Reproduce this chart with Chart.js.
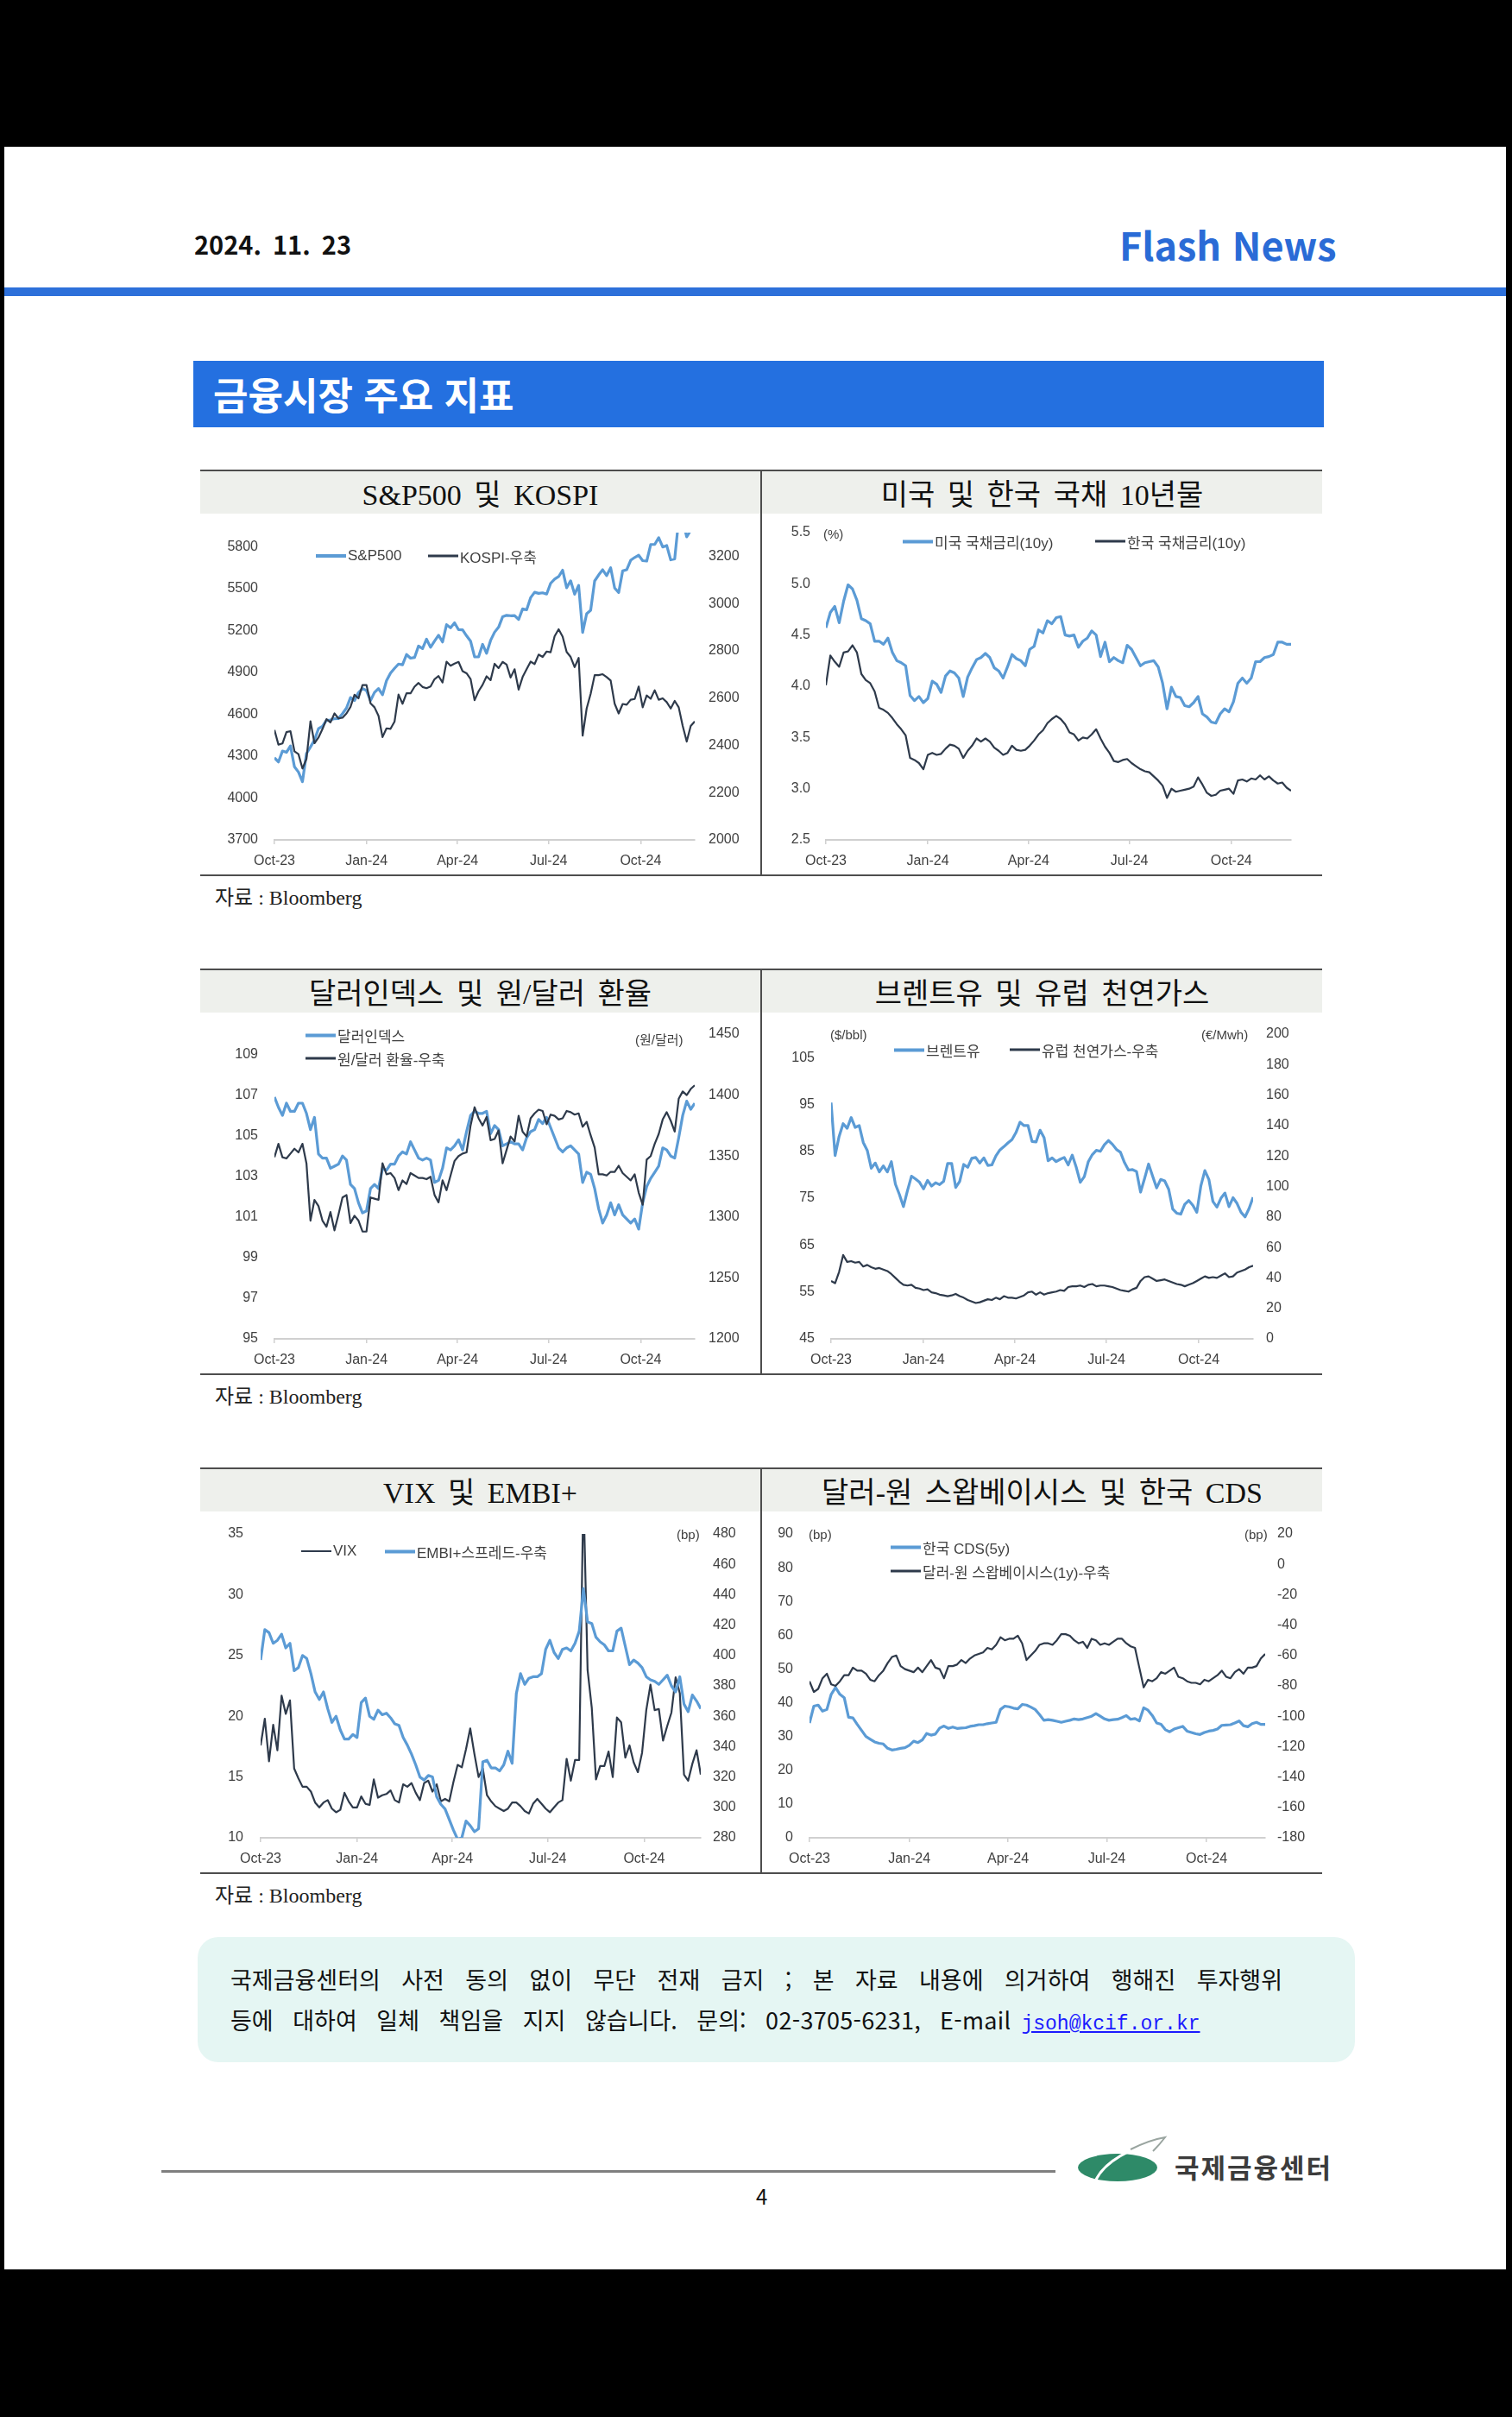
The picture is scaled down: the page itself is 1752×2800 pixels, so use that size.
<!DOCTYPE html>
<html lang="ko">
<head>
<meta charset="utf-8">
<title>금융시장 주요 지표</title>
<script src="https://cdn.jsdelivr.net/npm/chart.js@4.4.1/dist/chart.umd.min.js"></script>
<style>
  body { margin: 0; width: 1752px; height: 2800px; background: #000; position: relative; overflow: hidden;
         font-family: 'Noto Sans CJK KR', 'Noto Sans', sans-serif; color: #222; }
  .a { position: absolute; }
  .c { position: absolute; transform: translateY(-50%); white-space: nowrap; line-height: 1.2; }
  .rule { position: absolute; background: #4d4d4d; }
  .band { position: absolute; background: #eef0ec; height: 49px; width: 649px; }
  .ttl { position: absolute; width: 649px; text-align: center; transform: translateY(-50%); line-height: 1.2;
         font: 34px 'Liberation Serif', 'Noto Sans CJK KR', serif; color: #111; word-spacing: 6px; white-space: nowrap; }
  .src { font: 24px 'Liberation Serif', 'Noto Sans CJK KR', serif; color: #222; }
  .lg { display: flex; align-items: center; font: 17px 'Liberation Sans', 'Noto Sans CJK KR', sans-serif; color: #404040; }
  .sw { display: inline-block; width: 35px; margin-right: 2px; }
  .sw.b { height: 4px; background: #5b9bd5; }
  .sw.d { height: 2.5px; background: #2e3a4b; }
  .unit { font: 15px 'Liberation Sans', 'Noto Sans CJK KR', sans-serif; color: #404040; }
  canvas { position: absolute; }
</style>
</head>
<body>
<div class="a" style="left:5px;top:170px;width:1740px;height:2459px;background:#fff"></div>

<!-- header -->
<div class="c" style="left:225px;top:282px;font-size:29px;font-weight:700;color:#111;word-spacing:5px">2024. 11. 23</div>
<div class="c" style="left:1297px;top:283px;font-size:45px;font-weight:700;color:#2a6bd6">Flash News</div>
<div class="a" style="left:5px;top:333px;width:1740px;height:10px;background:#2d70da"></div>
<div class="a" style="left:224px;top:418px;width:1310px;height:77px;background:#2470e0"></div>
<div class="c" style="left:247px;top:456px;font-size:44px;font-weight:700;color:#fff">금융시장 주요 지표</div>

<!-- row 1 -->
<div class="rule" style="left:232px;top:544px;width:1300px;height:2px"></div>
<div class="rule" style="left:232px;top:1013px;width:1300px;height:2px"></div>
<div class="rule" style="left:881px;top:545px;width:2px;height:469px"></div>
<div class="band" style="left:232px;top:546px"></div>
<div class="band" style="left:883px;top:546px"></div>
<div class="ttl" style="left:232px;top:570px">S&amp;P500 및 KOSPI</div>
<div class="ttl" style="left:883px;top:570px">미국 및 한국 국채 10년물</div>
<canvas id="c1" width="648" height="414" style="left:232px;top:598px"></canvas>
<canvas id="c2" width="648" height="414" style="left:884px;top:598px"></canvas>
<div class="c lg" style="left:366px;top:644px"><i class="sw b"></i>S&amp;P500</div>
<div class="c lg" style="left:496px;top:644px"><i class="sw d"></i>KOSPI-우축</div>
<div class="c unit" style="left:954px;top:618px">(%)</div>
<div class="c lg" style="left:1046px;top:627px"><i class="sw b"></i>미국 국채금리(10y)</div>
<div class="c lg" style="left:1269px;top:627px"><i class="sw d"></i>한국 국채금리(10y)</div>
<div class="c src" style="left:249px;top:1037px">자료 : Bloomberg</div>

<!-- row 2 -->
<div class="rule" style="left:232px;top:1122px;width:1300px;height:2px"></div>
<div class="rule" style="left:232px;top:1591px;width:1300px;height:2px"></div>
<div class="rule" style="left:881px;top:1123px;width:2px;height:469px"></div>
<div class="band" style="left:232px;top:1124px"></div>
<div class="band" style="left:883px;top:1124px"></div>
<div class="ttl" style="left:232px;top:1148px">달러인덱스 및 원/달러 환율</div>
<div class="ttl" style="left:883px;top:1148px">브렌트유 및 유럽 천연가스</div>
<canvas id="c3" width="648" height="414" style="left:232px;top:1176px"></canvas>
<canvas id="c4" width="648" height="414" style="left:884px;top:1176px"></canvas>
<div class="c lg" style="left:354px;top:1199px"><i class="sw b"></i>달러인덱스</div>
<div class="c lg" style="left:354px;top:1226px"><i class="sw d"></i>원/달러 환율-우축</div>
<div class="c unit" style="left:736px;top:1203px">(원/달러)</div>
<div class="c unit" style="left:962px;top:1198px">($/bbl)</div>
<div class="c unit" style="left:1392px;top:1198px">(€/Mwh)</div>
<div class="c lg" style="left:1036px;top:1216px"><i class="sw b"></i>브렌트유</div>
<div class="c lg" style="left:1170px;top:1216px"><i class="sw d"></i>유럽 천연가스-우축</div>
<div class="c src" style="left:249px;top:1615px">자료 : Bloomberg</div>

<!-- row 3 -->
<div class="rule" style="left:232px;top:1700px;width:1300px;height:2px"></div>
<div class="rule" style="left:232px;top:2169px;width:1300px;height:2px"></div>
<div class="rule" style="left:881px;top:1701px;width:2px;height:469px"></div>
<div class="band" style="left:232px;top:1702px"></div>
<div class="band" style="left:883px;top:1702px"></div>
<div class="ttl" style="left:232px;top:1726px">VIX 및 EMBI+</div>
<div class="ttl" style="left:883px;top:1726px">달러-원 스왑베이시스 및 한국 CDS</div>
<canvas id="c5" width="648" height="414" style="left:232px;top:1754px"></canvas>
<canvas id="c6" width="648" height="414" style="left:884px;top:1754px"></canvas>
<div class="c lg" style="left:349px;top:1797px"><i class="sw d"></i>VIX</div>
<div class="c lg" style="left:446px;top:1797px"><i class="sw b"></i>EMBI+스프레드-우축</div>
<div class="c unit" style="left:784px;top:1777px">(bp)</div>
<div class="c unit" style="left:937px;top:1777px">(bp)</div>
<div class="c unit" style="left:1442px;top:1777px">(bp)</div>
<div class="c lg" style="left:1032px;top:1792px"><i class="sw b"></i>한국 CDS(5y)</div>
<div class="c lg" style="left:1032px;top:1820px"><i class="sw d"></i>달러-원 스왑베이시스(1y)-우축</div>
<div class="c src" style="left:249px;top:2193px">자료 : Bloomberg</div>

<!-- footer -->
<div class="a" style="left:229px;top:2244px;width:1341px;height:145px;background:#e5f6f3;border-radius:24px"></div>
<div class="c" style="left:267px;top:2293px;width:1219px;font-size:27px;color:#111;text-align:justify;text-align-last:justify">국제금융센터의 사전 동의 없이 무단 전재 금지 ; 본 자료 내용에 의거하여 행해진 투자행위</div>
<div class="c" style="left:267px;top:2341px;font-size:27px;color:#111;word-spacing:15px">등에 대하여 일체 책임을 지지 않습니다. 문의: <span style="letter-spacing:0.3px;word-spacing:14px">02-3705-6231, E-mail</span><span style="margin-left:12px;color:#1a1aff;text-decoration:underline;font:23px 'Liberation Mono', monospace;word-spacing:0">jsoh@kcif.or.kr</span></div>
<div class="a" style="left:187px;top:2514px;width:1036px;height:3px;background:#7f7f7f"></div>
<div class="c" style="left:876px;top:2544px;font-size:24px;color:#111">4</div>
<svg class="a" style="left:1240px;top:2470px" width="120" height="70" viewBox="0 0 120 70">
  <ellipse cx="55" cy="41" rx="46" ry="16" fill="#2e8a68"/>
  <path d="M30 55 Q 45 25 108 8" stroke="#ffffff" stroke-width="3" fill="none"/>
  <path d="M70 20 Q 92 9 110 6 Q 104 14 96 22" stroke="#9aa5a0" stroke-width="2" fill="none"/>
</svg>
<div class="c" style="left:1361px;top:2510px;font-size:31px;font-weight:700;color:#3c3c3c;letter-spacing:2px">국제금융센터</div>

<script>
// sampling grid: every 4th calendar day from 2023-10-01 (day 0) up to 2024-11-24 (day 420)
var xDays = [];
for (var d = 0; d <= 420; d += 4) xDays.push(d);

var quarterDays = [0, 92, 183, 274, 366];
var quarterLabels = ['Oct-23', 'Jan-24', 'Apr-24', 'Jul-24', 'Oct-24'];

// S&P500 (left) / KOSPI (right)
var sp500 = [4288, 4258, 4336, 4327, 4373, 4224, 4186, 4117,
  4318, 4365, 4415, 4496, 4514, 4557, 4559, 4568,
  4569, 4604, 4644, 4719, 4698, 4755, 4783,
  4770, 4697, 4756, 4784, 4739, 4840, 4894, 4928,
  4959, 4954, 5027, 5001, 5006, 5088, 5070,
  5137, 5079, 5124, 5165, 5117, 5241, 5218, 5254,
  5205, 5204, 5161, 5123, 5011, 5010, 5100, 5036,
  5128, 5187, 5223, 5297, 5308, 5305, 5306,
  5278, 5354, 5347, 5434, 5473, 5465, 5469, 5460,
  5537, 5567, 5585, 5631, 5505, 5555, 5459, 5522,
  5186, 5319, 5344, 5554, 5597, 5634, 5592,
  5648, 5503, 5471, 5626, 5634, 5702, 5722, 5738,
  5699, 5696, 5815, 5815, 5864, 5797, 5808, 5705,
  5712, 5995, 5984, 5870, 5917, 5969];
var kospi = [2465, 2403, 2408, 2456, 2460, 2375, 2363, 2302,
  2343, 2502, 2409, 2433, 2469, 2511, 2497, 2535,
  2514, 2517, 2535, 2563, 2614, 2599, 2655,
  2655, 2578, 2561, 2525, 2435, 2472, 2470, 2500,
  2615, 2576, 2620, 2620, 2648, 2664, 2647,
  2642, 2649, 2680, 2693, 2666, 2754, 2737, 2746,
  2753, 2714, 2705, 2681, 2591, 2629, 2656, 2692,
  2676, 2745, 2727, 2753, 2742, 2687, 2722,
  2636, 2689, 2722, 2754, 2744, 2784, 2774, 2797,
  2794, 2862, 2891, 2860, 2795, 2774, 2731, 2770,
  2441, 2556, 2618, 2697, 2697, 2701, 2689,
  2674, 2576, 2535, 2575, 2572, 2593, 2596, 2649,
  2561, 2611, 2597, 2633, 2593, 2599, 2583, 2556,
  2588, 2561, 2482, 2416, 2482, 2501];
var spTicks = [3700, 4000, 4300, 4600, 4900, 5200, 5500, 5800];
var kospiTicks = [2000, 2200, 2400, 2600, 2800, 3000, 3200];

// US / Korea 10y yields (%)
var us10y = [4.57, 4.72, 4.78, 4.62, 4.83, 4.99, 4.95, 4.84,
  4.66, 4.64, 4.61, 4.44, 4.44, 4.41, 4.47, 4.33,
  4.25, 4.23, 4.20, 3.91, 3.86, 3.90, 3.84,
  3.88, 4.05, 4.02, 3.94, 4.10, 4.15, 4.13, 4.08,
  3.90, 4.09, 4.18, 4.26, 4.28, 4.32, 4.28,
  4.18, 4.15, 4.08, 4.19, 4.31, 4.27, 4.25, 4.20,
  4.36, 4.39, 4.55, 4.52, 4.64, 4.61, 4.67, 4.68,
  4.50, 4.49, 4.50, 4.38, 4.44, 4.47, 4.54,
  4.50, 4.29, 4.43, 4.24, 4.28, 4.25, 4.23, 4.40,
  4.36, 4.28, 4.20, 4.23, 4.24, 4.25, 4.19, 4.03,
  3.78, 3.99, 3.90, 3.89, 3.81, 3.80, 3.84,
  3.90, 3.73, 3.70, 3.65, 3.64, 3.73, 3.78, 3.75,
  3.85, 4.03, 4.08, 4.03, 4.08, 4.24, 4.24, 4.28,
  4.29, 4.31, 4.43, 4.43, 4.41, 4.41];
var kr10y = [4.01, 4.30, 4.24, 4.19, 4.33, 4.34, 4.40, 4.33,
  4.12, 4.06, 4.03, 3.95, 3.79, 3.77, 3.74, 3.69,
  3.63, 3.58, 3.52, 3.30, 3.28, 3.25, 3.19,
  3.33, 3.35, 3.33, 3.34, 3.39, 3.43, 3.42, 3.39,
  3.30, 3.37, 3.42, 3.49, 3.46, 3.49, 3.46,
  3.40, 3.37, 3.33, 3.35, 3.42, 3.38, 3.37, 3.38,
  3.42, 3.47, 3.53, 3.57, 3.64, 3.68, 3.71, 3.68,
  3.63, 3.55, 3.53, 3.47, 3.50, 3.49, 3.53,
  3.58, 3.49, 3.41, 3.35, 3.27, 3.26, 3.28, 3.29,
  3.25, 3.22, 3.19, 3.17, 3.16, 3.12, 3.08, 3.03,
  2.91, 3.00, 2.97, 2.98, 2.99, 3.00, 3.02,
  3.11, 3.04, 2.96, 2.93, 2.94, 2.98, 2.99, 3.00,
  2.95, 3.08, 3.09, 3.07, 3.10, 3.09, 3.13, 3.09,
  3.12, 3.08, 3.05, 3.06, 3.01, 2.98];
var rateTicks = [2.5, 3.0, 3.5, 4.0, 4.5, 5.0, 5.5];

// Dollar index (left) / KRW per USD (right)
var dxy = [106.9, 106.4, 106.0, 106.6, 106.2, 106.2, 106.6, 106.6,
  106.1, 105.3, 105.9, 104.1, 103.9, 103.9, 103.4, 103.5,
  103.6, 104.0, 103.8, 102.6, 102.4, 101.7, 101.2,
  101.3, 102.4, 102.6, 102.4, 103.4, 103.3, 103.6, 103.6,
  104.0, 104.2, 104.1, 104.7, 104.3, 103.9, 103.8,
  103.9, 103.8, 102.7, 102.8, 103.4, 104.4, 104.3, 104.5,
  104.8, 104.3, 105.2, 106.0, 106.2, 106.1, 106.1, 106.2,
  105.1, 105.5, 105.3, 104.5, 104.6, 104.7, 104.6,
  104.6, 104.3, 104.9, 105.2, 105.3, 105.8, 105.6, 105.9,
  105.4, 104.9, 104.4, 104.2, 104.4, 104.5, 104.3, 104.1,
  102.7, 103.2, 103.1, 102.4, 101.4, 100.7, 101.1,
  101.7, 101.1, 101.6, 101.1, 100.9, 100.7, 100.9, 100.4,
  101.7, 102.5, 102.9, 103.2, 103.5, 104.4, 104.3, 104.0,
  103.9, 104.9, 106.0, 106.7, 106.3, 106.6];
var usdkrw = [1349, 1360, 1349, 1348, 1352, 1356, 1353, 1360,
  1344, 1297, 1314, 1309, 1297, 1292, 1304, 1289,
  1302, 1316, 1318, 1295, 1301, 1297, 1288,
  1288, 1316, 1315, 1314, 1344, 1335, 1336, 1332,
  1322, 1330, 1327, 1336, 1334, 1332, 1332,
  1331, 1333, 1318, 1312, 1330, 1322, 1334, 1346,
  1350, 1352, 1353, 1375, 1390, 1381, 1375, 1382,
  1363, 1364, 1371, 1344, 1355, 1366, 1362,
  1383, 1370, 1366, 1381, 1385, 1388, 1387, 1376,
  1384, 1383, 1380, 1381, 1387, 1386, 1384, 1385,
  1374, 1378, 1367, 1357, 1335, 1335, 1334,
  1337, 1337, 1342, 1336, 1333, 1330, 1335, 1320,
  1310, 1347, 1350, 1360, 1368, 1380, 1386, 1379,
  1370, 1397, 1403, 1400, 1405, 1408];
var dxyTicks = [95, 97, 99, 101, 103, 105, 107, 109];
var krwTicks = [1200, 1250, 1300, 1350, 1400, 1450];

// Brent ($/bbl, left) / European gas (EUR/MWh, right)
var brent = [95.4, 84.1, 88.2, 90.9, 89.9, 92.2, 90.1, 90.5,
  86.9, 85.2, 81.4, 82.5, 80.6, 81.9, 80.6, 82.8,
  78.0, 75.8, 73.2, 76.6, 79.7, 79.1, 78.4,
  77.0, 78.8, 77.6, 78.3, 77.9, 78.6, 82.4, 82.4,
  77.3, 78.6, 82.2, 81.6, 83.5, 83.7, 82.5,
  83.6, 82.0, 82.1, 84.0, 85.3, 86.0, 86.8, 87.5,
  89.0, 91.2, 90.5, 90.5, 87.1, 87.0, 89.5, 87.9,
  83.0, 83.6, 82.8, 83.3, 83.7, 82.1, 84.2,
  81.6, 78.4, 79.6, 82.8, 84.3, 85.2, 85.0, 86.4,
  87.3, 86.5, 85.4, 84.8, 82.6, 81.0, 81.1, 80.7,
  76.3, 79.2, 82.3, 79.7, 77.2, 79.0, 78.7,
  76.9, 72.7, 71.8, 71.6, 73.7, 74.5, 73.5, 72.0,
  77.6, 80.9, 79.0, 74.3, 73.1, 75.0, 76.1, 73.2,
  75.1, 73.9, 72.0, 71.0, 72.8, 75.2];
var euGas = [38.0, 36.5, 44.0, 55.0, 50.5, 51.0, 50.0, 50.5,
  47.5, 48.5, 47.0, 46.0, 46.5, 45.5, 44.5, 42.5,
  40.0, 37.5, 35.5, 35.0, 35.5, 33.5, 33.0,
  32.0, 32.5, 30.5, 30.0, 29.0, 28.5, 28.0, 28.5,
  29.5, 28.0, 27.0, 25.5, 24.5, 23.5, 24.0,
  25.0, 26.0, 25.5, 27.0, 26.0, 28.0, 27.0, 27.0,
  26.5, 27.5, 28.5, 30.5, 31.0, 29.0, 30.5, 29.0,
  30.0, 30.5, 31.0, 32.0, 31.5, 34.0, 34.5,
  34.5, 35.0, 34.0, 35.5, 36.0, 34.5, 35.0, 35.0,
  34.5, 34.0, 33.0, 32.0, 31.5, 31.0, 32.5, 33.5,
  38.0, 40.5, 41.0, 39.5, 38.0, 38.5, 39.0,
  38.0, 37.0, 36.0, 35.5, 34.5, 35.5, 36.5, 38.0,
  39.5, 41.0, 40.0, 40.5, 40.0, 41.5, 43.0, 40.5,
  41.0, 43.5, 44.5, 45.5, 47.0, 48.0];
var brentTicks = [45, 55, 65, 75, 85, 95, 105];
var gasTicks = [0, 20, 40, 60, 80, 100, 120, 140, 160, 180, 200];

// VIX (left) / EMBI+ spread in bp (right)
var vix = [17.6, 19.8, 16.3, 19.3, 17.2, 21.7, 20.2, 21.3,
  15.7, 14.9, 14.2, 14.2, 13.8, 12.9, 12.5, 12.9,
  13.1, 12.4, 12.1, 12.3, 13.7, 13.0, 12.5,
  12.5, 13.4, 12.8, 12.7, 14.8, 13.3, 13.5, 13.6,
  13.9, 13.1, 12.9, 14.4, 14.2, 14.5, 13.7,
  13.1, 14.5, 14.7, 13.8, 14.4, 13.0, 13.2, 13.0,
  14.6, 16.0, 15.8, 17.3, 19.0, 16.9, 15.0, 15.7,
  13.5, 13.0, 12.6, 12.4, 12.2, 12.4, 12.9,
  12.9, 12.6, 12.2, 12.0, 12.8, 13.2, 12.8, 12.4,
  12.1, 12.5, 12.9, 13.1, 16.5, 14.7, 16.4, 16.4,
  38.6, 23.8, 20.7, 14.8, 15.9, 15.9, 17.1,
  15.0, 19.9, 19.5, 16.6, 17.6, 16.2, 15.4, 17.0,
  20.5, 22.6, 20.5, 20.6, 18.0, 19.2, 20.3, 23.2,
  21.9, 15.2, 14.7, 16.1, 17.2, 15.2];
var embi = [397, 417, 415, 408, 410, 414, 405, 408,
  390, 392, 400, 398, 388, 376, 371, 376,
  365, 356, 360, 351, 345, 345, 348,
  346, 369, 372, 360, 358, 364, 361, 362,
  359, 355, 354, 346, 341, 335, 328,
  320, 318, 321, 320, 307, 302, 299, 292,
  285, 279, 280, 291, 288, 284, 286, 330,
  331, 326, 326, 324, 328, 337, 329,
  375, 388, 381, 385, 386, 386, 388, 404,
  410, 402, 398, 404, 405, 403, 408, 416,
  444, 422, 421, 412, 409, 407, 403,
  403, 416, 418, 406, 394, 397, 395, 392,
  386, 384, 383, 381, 384, 387, 380, 376,
  386, 368, 363, 374, 370, 365];
var vixTicks = [10, 15, 20, 25, 30, 35];
var embiTicks = [280, 300, 320, 340, 360, 380, 400, 420, 440, 460, 480];

// Korea CDS 5y (left) / USD-KRW swap basis 1y (right), bp
var koreaCds = [34.0, 39.0, 39.3, 37.5, 38.0, 42.5, 44.5, 42.5,
  41.5, 35.7, 35.5, 33.6, 31.8, 30.0, 29.2, 28.4,
  28.0, 27.8, 26.5, 26.0, 26.2, 26.5, 26.7,
  27.4, 28.6, 28.2, 29.0, 30.9, 30.4, 30.7, 32.5,
  33.1, 32.4, 32.8, 32.4, 32.5, 32.6, 33.0,
  33.2, 33.5, 33.5, 33.8, 34.0, 34.2, 38.0, 39.0,
  38.8, 38.4, 38.2, 39.5, 39.3, 38.7, 38.0, 36.5,
  34.8, 35.0, 34.8, 34.5, 34.2, 34.5, 34.8,
  35.2, 35.0, 35.2, 35.6, 36.0, 36.8, 36.0, 35.2,
  34.8, 35.0, 35.1, 35.6, 36.2, 35.1, 35.3, 34.6,
  38.5, 37.8, 36.2, 34.0, 33.6, 32.0, 31.4,
  32.2, 32.6, 33.0, 31.6, 31.2, 30.8, 30.6, 31.2,
  31.6, 31.8, 32.2, 33.3, 33.4, 33.5, 34.0, 34.6,
  33.2, 32.9, 33.8, 34.2, 33.6, 33.6];
var swapBasis = [-77, -84, -82, -75, -72, -79, -80, -77,
  -73, -73, -68, -70, -70, -72, -76, -77,
  -73, -70, -65, -61, -60, -67, -69,
  -70, -71, -68, -71, -67, -63, -68, -69,
  -75, -67, -67, -66, -63, -65, -62,
  -60, -59, -58, -55, -56, -53, -48, -50,
  -49, -49, -47, -52, -63, -60, -57, -53,
  -52, -52, -53, -50, -46, -46, -47,
  -50, -52, -51, -55, -49, -50, -53, -52,
  -53, -51, -49, -49, -52, -54, -55, -68,
  -81, -76, -77, -75, -71, -72, -70,
  -68, -74, -75, -77, -78, -78, -79, -76,
  -77, -75, -73, -70, -74, -75, -71, -69,
  -72, -68, -68, -67, -62, -59];
var cdsTicks = [0, 10, 20, 30, 40, 50, 60, 70, 80, 90];
var basisTicks = [-180, -160, -140, -120, -100, -80, -60, -40, -20, 0, 20];

var BLUE = '#5b9bd5', DARK = '#2e3a4b';
var tickFont = { family: "'Liberation Sans', 'Noto Sans CJK KR', sans-serif", size: 16 };
var tickColor = '#404040';

function yAxis(pos, min, max, ticks, width, pad, fmt) {
  return {
    type: 'linear', position: pos, min: min, max: max,
    grid: { display: false, drawTicks: false },
    border: { display: false },
    afterBuildTicks: function (ax) { ax.ticks = ticks.map(function (v) { return { value: v }; }); },
    // fixed axis width, and no extra label overhang so the plot keeps its full height
    afterFit: function (ax) { ax.width = width; ax.paddingTop = 0; ax.paddingBottom = 0; },
    ticks: { padding: pad, font: tickFont, color: tickColor,
             callback: function (v) { return fmt ? fmt(v) : String(v); } }
  };
}

function xAxis() {
  return {
    type: 'linear', min: 0, max: 420,
    grid: { display: true, drawOnChartArea: false, drawTicks: true, tickLength: 5, color: '#d0d0d0', lineWidth: 1.5 },
    border: { display: true, color: '#d0d0d0', width: 2 },
    afterBuildTicks: function (ax) { ax.ticks = quarterDays.map(function (v) { return { value: v }; }); },
    afterFit: function (ax) { ax.height = 39; ax.paddingLeft = 0; ax.paddingRight = 0; },
    ticks: { padding: 10, maxRotation: 0, autoSkip: false, font: tickFont, color: tickColor,
             callback: function (v, i) { return quarterLabels[i]; } }
  };
}

function lineSet(values, axis, color, width, order) {
  return {
    data: values.map(function (v, i) { return { x: xDays[i], y: v }; }),
    yAxisID: axis, borderColor: color, borderWidth: width, order: order,
    pointRadius: 0, tension: 0, fill: false, borderJoinStyle: 'round'
  };
}

function makeChart(id, datasets, scales, padTop, padRight) {
  return new Chart(document.getElementById(id), {
    type: 'line',
    data: { datasets: datasets },
    options: {
      responsive: false, animation: false, events: [],
      layout: { padding: { top: padTop, right: padRight || 0, bottom: 0, left: 0 } },
      plugins: { legend: { display: false }, tooltip: { enabled: false } },
      scales: scales
    }
  });
}

makeChart('c1', [lineSet(sp500, 'yL', BLUE, 3.2, 1), lineSet(kospi, 'yR', DARK, 2.2, 0)],
  { x: xAxis(), yL: yAxis('left', 3700, 5900, spTicks, 86, 19), yR: yAxis('right', 2000, 3300, kospiTicks, 75, 16) }, 19);

makeChart('c2', [lineSet(us10y, 'yL', BLUE, 3.2, 1), lineSet(kr10y, 'yL', DARK, 2.2, 0)],
  { x: xAxis(), yL: yAxis('left', 2.5, 5.5, rateTicks, 73, 18, function (v) { return v.toFixed(1); }) }, 19, 36);

makeChart('c3', [lineSet(dxy, 'yL', BLUE, 3.2, 1), lineSet(usdkrw, 'yR', DARK, 2.2, 0)],
  { x: xAxis(), yL: yAxis('left', 95, 110, dxyTicks, 86, 19), yR: yAxis('right', 1200, 1450, krwTicks, 75, 16) }, 22);

makeChart('c4', [lineSet(brent, 'yL', BLUE, 3.2, 1), lineSet(euGas, 'yR', DARK, 2.2, 0)],
  { x: xAxis(), yL: yAxis('left', 45, 110, brentTicks, 79, 19), yR: yAxis('right', 0, 200, gasTicks, 80, 15) }, 22);

makeChart('c5', [lineSet(vix, 'yL', DARK, 2.2, 1), lineSet(embi, 'yR', BLUE, 3.2, 0)],
  { x: xAxis(), yL: yAxis('left', 10, 35, vixTicks, 70, 20), yR: yAxis('right', 280, 480, embiTicks, 68, 14) }, 23);

makeChart('c6', [lineSet(koreaCds, 'yL', BLUE, 3.2, 1), lineSet(swapBasis, 'yR', DARK, 2.2, 0)],
  { x: xAxis(), yL: yAxis('left', 0, 90, cdsTicks, 54, 19), yR: yAxis('right', -180, 20, basisTicks, 66, 14) }, 23);
</script>
</body>
</html>
